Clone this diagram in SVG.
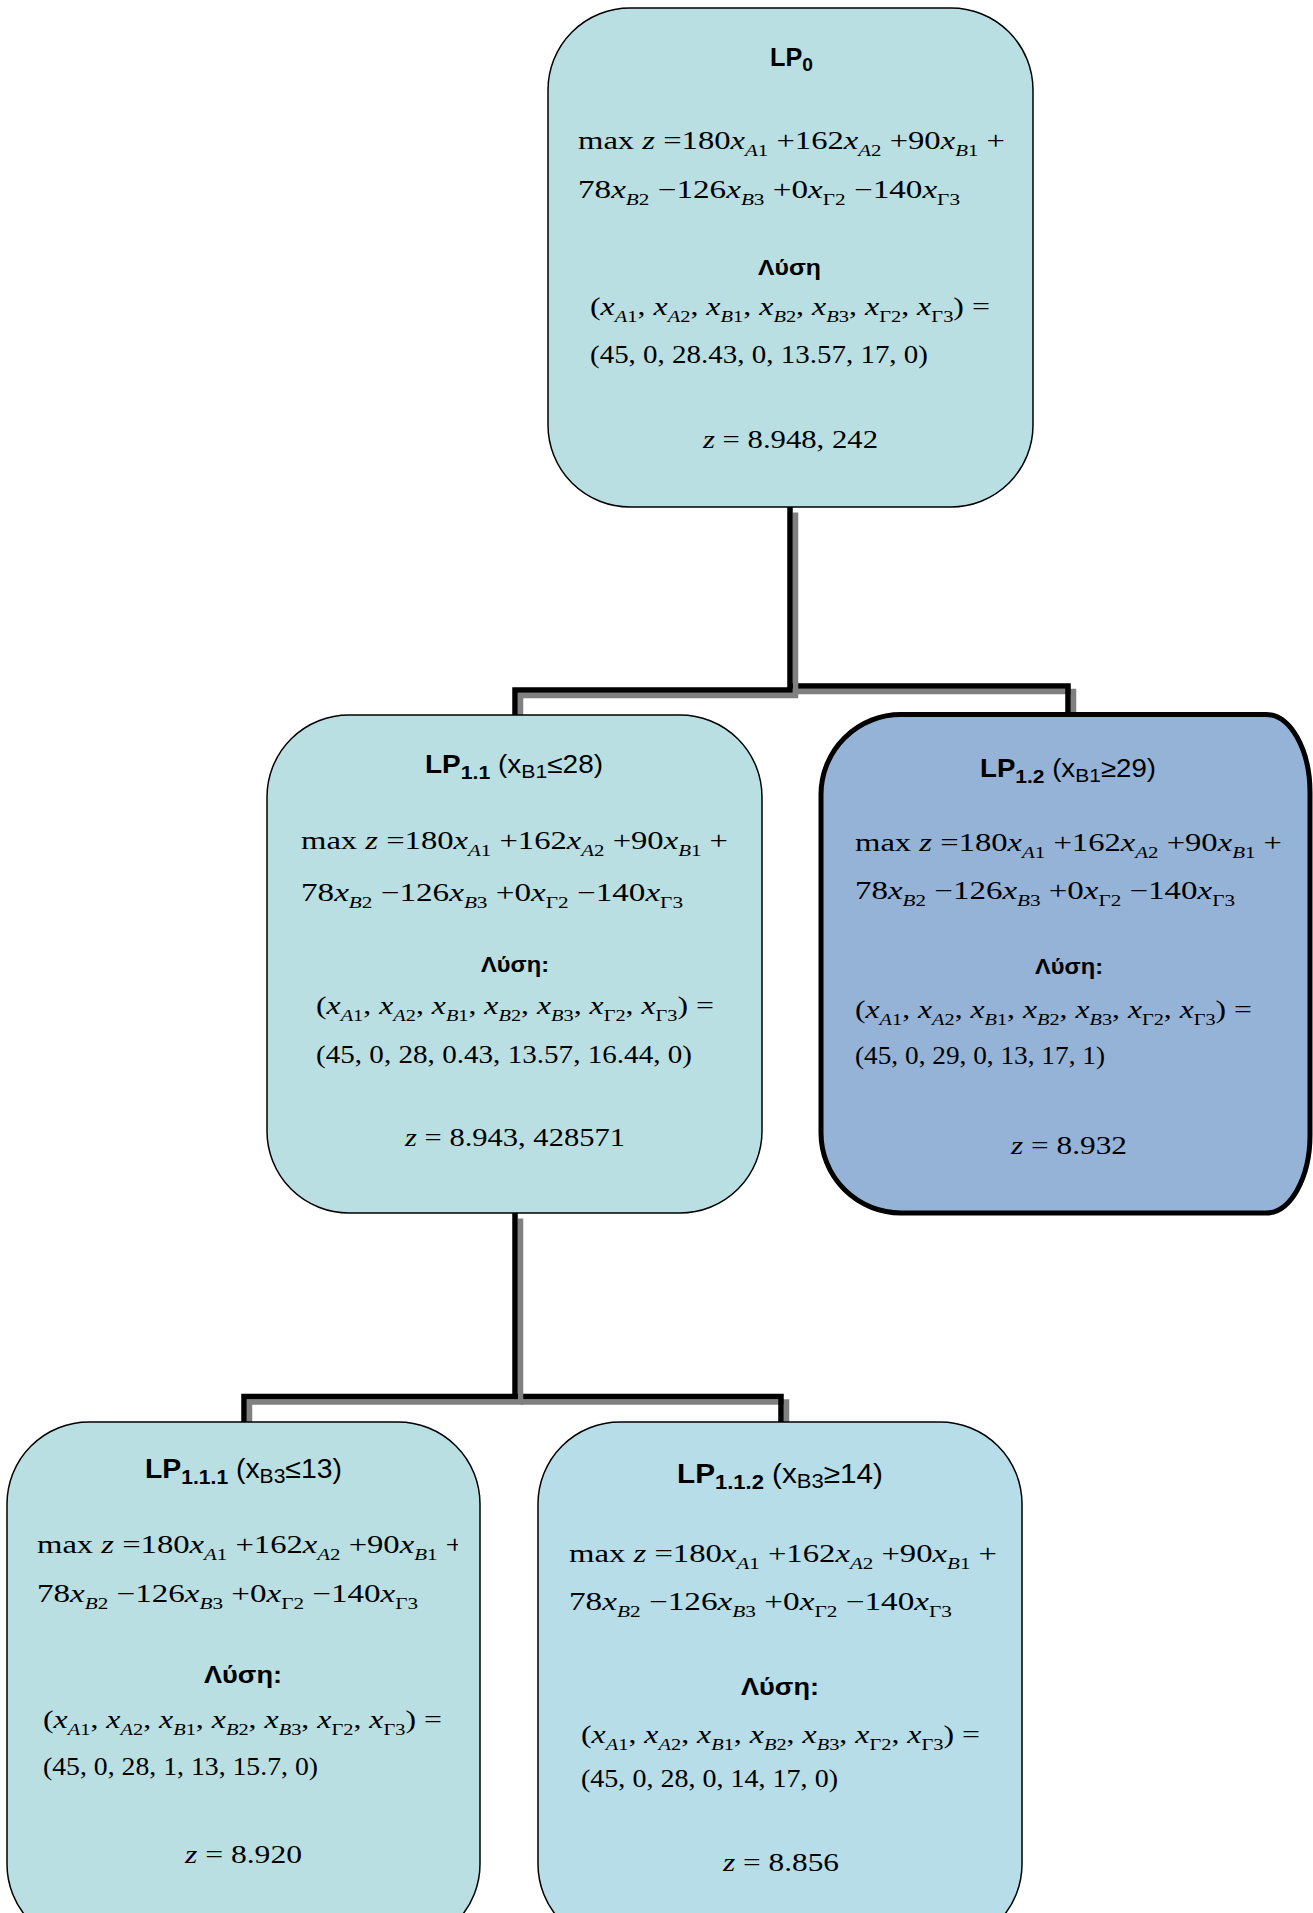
<svg xmlns="http://www.w3.org/2000/svg" width="1313" height="1913" viewBox="0 0 1313 1913">
  <defs>
    <style>
      .m{font-family:"Liberation Serif","Times New Roman",serif;font-size:25px;fill:#000}
      .i{font-style:italic}
      .s{font-size:16px}
      .t{font-family:"Liberation Sans",Arial,sans-serif;font-size:25px;font-weight:bold;fill:#000}
      .tb{font-size:27px}
      .ts{font-size:19px}
      .tsb{font-size:20px}
      .n{font-weight:normal}
      .h{font-size:22px}
      .hb{font-size:24px}
      .box{fill:#BADFE3;stroke:#000;stroke-width:1.5}
      .box2{fill:#B7DDE8;stroke:#000;stroke-width:1.5}
      .sel{fill:#95B3D7;stroke:#000;stroke-width:5}
      .wire{fill:none;stroke:#000;stroke-width:5.5;stroke-linejoin:miter}
      .shade{fill:none;stroke:#808080;stroke-width:5.5;stroke-linejoin:miter}
    </style>
    <clipPath id="clip111">
      <rect x="0" y="1400" width="458" height="513"/>
    </clipPath>
  </defs>

  <rect width="1313" height="1913" fill="#fff"/>

  <!-- elbow connectors with drop shadow -->
  <g id="connectors">
    <!-- LP0 -> LP1.2 -->
    <path class="shade" d="M795.5,691.5 H1073.5 V716"/>
    <path class="wire" d="M790,686 H1068 V716"/>
    <!-- LP0 -> LP1.1 -->
    <path class="shade" d="M795.5,512.5 V695.5 H520.5 V716"/>
    <path class="wire" d="M790,507 V690 H515 V716"/>
    <!-- LP1.1 -> LP1.1.2 -->
    <path class="shade" d="M520.5,1402 H786.5 V1423"/>
    <path class="wire" d="M515,1396.5 H781 V1423"/>
    <!-- LP1.1 -> LP1.1.1 -->
    <path class="shade" d="M520.5,1218.5 V1402 H249.5 V1423"/>
    <path class="wire" d="M515,1213 V1396.5 H244 V1423"/>
  </g>

  <!-- root problem -->
  <g id="lp0">
    <rect class="box" x="548" y="8" width="485" height="499" rx="82" ry="82"/>
    <text class="t" x="770" y="66" textLength="43" lengthAdjust="spacingAndGlyphs">LP<tspan class="ts" dy="5">0</tspan></text>
    <text class="m" x="578" y="149" textLength="427" lengthAdjust="spacingAndGlyphs">max <tspan class="i">z</tspan> =180<tspan class="i">x</tspan><tspan class="s" dy="7"><tspan class="i">A</tspan>1</tspan><tspan dy="-7"> +162</tspan><tspan class="i">x</tspan><tspan class="s" dy="7"><tspan class="i">A</tspan>2</tspan><tspan dy="-7"> +90</tspan><tspan class="i">x</tspan><tspan class="s" dy="7"><tspan class="i">B</tspan>1</tspan><tspan dy="-7"> +</tspan></text>
    <text class="m" x="578" y="198" textLength="382" lengthAdjust="spacingAndGlyphs">78<tspan class="i">x</tspan><tspan class="s" dy="7"><tspan class="i">B</tspan>2</tspan><tspan dy="-7"> −126</tspan><tspan class="i">x</tspan><tspan class="s" dy="7"><tspan class="i">B</tspan>3</tspan><tspan dy="-7"> +0</tspan><tspan class="i">x</tspan><tspan class="s" dy="7">Γ2</tspan><tspan dy="-7"> −140</tspan><tspan class="i">x</tspan><tspan class="s" dy="7">Γ3</tspan></text>
    <text class="t h" x="758" y="275" textLength="63" lengthAdjust="spacingAndGlyphs">Λύση</text>
    <text class="m" x="590" y="315" textLength="400" lengthAdjust="spacingAndGlyphs">(<tspan class="i">x</tspan><tspan class="s" dy="7"><tspan class="i">A</tspan>1</tspan><tspan dy="-7">, </tspan><tspan class="i">x</tspan><tspan class="s" dy="7"><tspan class="i">A</tspan>2</tspan><tspan dy="-7">, </tspan><tspan class="i">x</tspan><tspan class="s" dy="7"><tspan class="i">B</tspan>1</tspan><tspan dy="-7">, </tspan><tspan class="i">x</tspan><tspan class="s" dy="7"><tspan class="i">B</tspan>2</tspan><tspan dy="-7">, </tspan><tspan class="i">x</tspan><tspan class="s" dy="7"><tspan class="i">B</tspan>3</tspan><tspan dy="-7">, </tspan><tspan class="i">x</tspan><tspan class="s" dy="7">Γ2</tspan><tspan dy="-7">, </tspan><tspan class="i">x</tspan><tspan class="s" dy="7">Γ3</tspan><tspan dy="-7">) =</tspan></text>
    <text class="m" x="590" y="363" textLength="338" lengthAdjust="spacingAndGlyphs">(45, 0, 28.43, 0, 13.57, 17, 0)</text>
    <text class="m" x="703" y="448" textLength="175" lengthAdjust="spacingAndGlyphs"><tspan class="i">z</tspan> = 8.948, 242</text>
  </g>

  <!-- branch x_B1 <= 28 -->
  <g id="lp1-1">
    <rect class="box" x="267" y="715" width="495" height="498" rx="82" ry="82"/>
    <text class="t" x="425" y="773" textLength="178" lengthAdjust="spacingAndGlyphs">LP<tspan class="ts" dy="6">1.1</tspan><tspan class="n" dy="-6"> (x</tspan><tspan class="n ts" dy="5">B1</tspan><tspan class="n" dy="-5">≤28)</tspan></text>
    <text class="m" x="301" y="849" textLength="427" lengthAdjust="spacingAndGlyphs">max <tspan class="i">z</tspan> =180<tspan class="i">x</tspan><tspan class="s" dy="7"><tspan class="i">A</tspan>1</tspan><tspan dy="-7"> +162</tspan><tspan class="i">x</tspan><tspan class="s" dy="7"><tspan class="i">A</tspan>2</tspan><tspan dy="-7"> +90</tspan><tspan class="i">x</tspan><tspan class="s" dy="7"><tspan class="i">B</tspan>1</tspan><tspan dy="-7"> +</tspan></text>
    <text class="m" x="301" y="901" textLength="382" lengthAdjust="spacingAndGlyphs">78<tspan class="i">x</tspan><tspan class="s" dy="7"><tspan class="i">B</tspan>2</tspan><tspan dy="-7"> −126</tspan><tspan class="i">x</tspan><tspan class="s" dy="7"><tspan class="i">B</tspan>3</tspan><tspan dy="-7"> +0</tspan><tspan class="i">x</tspan><tspan class="s" dy="7">Γ2</tspan><tspan dy="-7"> −140</tspan><tspan class="i">x</tspan><tspan class="s" dy="7">Γ3</tspan></text>
    <text class="t h" x="481" y="972" textLength="68" lengthAdjust="spacingAndGlyphs">Λύση:</text>
    <text class="m" x="316" y="1014" textLength="398" lengthAdjust="spacingAndGlyphs">(<tspan class="i">x</tspan><tspan class="s" dy="7"><tspan class="i">A</tspan>1</tspan><tspan dy="-7">, </tspan><tspan class="i">x</tspan><tspan class="s" dy="7"><tspan class="i">A</tspan>2</tspan><tspan dy="-7">, </tspan><tspan class="i">x</tspan><tspan class="s" dy="7"><tspan class="i">B</tspan>1</tspan><tspan dy="-7">, </tspan><tspan class="i">x</tspan><tspan class="s" dy="7"><tspan class="i">B</tspan>2</tspan><tspan dy="-7">, </tspan><tspan class="i">x</tspan><tspan class="s" dy="7"><tspan class="i">B</tspan>3</tspan><tspan dy="-7">, </tspan><tspan class="i">x</tspan><tspan class="s" dy="7">Γ2</tspan><tspan dy="-7">, </tspan><tspan class="i">x</tspan><tspan class="s" dy="7">Γ3</tspan><tspan dy="-7">) =</tspan></text>
    <text class="m" x="316" y="1063" textLength="376" lengthAdjust="spacingAndGlyphs">(45, 0, 28, 0.43, 13.57, 16.44, 0)</text>
    <text class="m" x="405" y="1146" textLength="220" lengthAdjust="spacingAndGlyphs"><tspan class="i">z</tspan> = 8.943, 428571</text>
  </g>

  <!-- branch x_B1 >= 29 (highlighted) -->
  <g id="lp1-2">
    <path class="sel" d="M901,714.5 H1266 A44,78 0 0 1 1310,792.5 V1135 A44,78 0 0 1 1266,1213 H901 A80,80 0 0 1 821,1133 V794.5 A80,80 0 0 1 901,714.5 Z"/>
    <text class="t" x="980" y="777" textLength="176" lengthAdjust="spacingAndGlyphs">LP<tspan class="ts" dy="6">1.2</tspan><tspan class="n" dy="-6"> (x</tspan><tspan class="n ts" dy="5">B1</tspan><tspan class="n" dy="-5">≥29)</tspan></text>
    <text class="m" x="855" y="851" textLength="427" lengthAdjust="spacingAndGlyphs">max <tspan class="i">z</tspan> =180<tspan class="i">x</tspan><tspan class="s" dy="7"><tspan class="i">A</tspan>1</tspan><tspan dy="-7"> +162</tspan><tspan class="i">x</tspan><tspan class="s" dy="7"><tspan class="i">A</tspan>2</tspan><tspan dy="-7"> +90</tspan><tspan class="i">x</tspan><tspan class="s" dy="7"><tspan class="i">B</tspan>1</tspan><tspan dy="-7"> +</tspan></text>
    <text class="m" x="855" y="899" textLength="380" lengthAdjust="spacingAndGlyphs">78<tspan class="i">x</tspan><tspan class="s" dy="7"><tspan class="i">B</tspan>2</tspan><tspan dy="-7"> −126</tspan><tspan class="i">x</tspan><tspan class="s" dy="7"><tspan class="i">B</tspan>3</tspan><tspan dy="-7"> +0</tspan><tspan class="i">x</tspan><tspan class="s" dy="7">Γ2</tspan><tspan dy="-7"> −140</tspan><tspan class="i">x</tspan><tspan class="s" dy="7">Γ3</tspan></text>
    <text class="t h" x="1035" y="974" textLength="68" lengthAdjust="spacingAndGlyphs">Λύση:</text>
    <text class="m" x="855" y="1018" textLength="397" lengthAdjust="spacingAndGlyphs">(<tspan class="i">x</tspan><tspan class="s" dy="7"><tspan class="i">A</tspan>1</tspan><tspan dy="-7">, </tspan><tspan class="i">x</tspan><tspan class="s" dy="7"><tspan class="i">A</tspan>2</tspan><tspan dy="-7">, </tspan><tspan class="i">x</tspan><tspan class="s" dy="7"><tspan class="i">B</tspan>1</tspan><tspan dy="-7">, </tspan><tspan class="i">x</tspan><tspan class="s" dy="7"><tspan class="i">B</tspan>2</tspan><tspan dy="-7">, </tspan><tspan class="i">x</tspan><tspan class="s" dy="7"><tspan class="i">B</tspan>3</tspan><tspan dy="-7">, </tspan><tspan class="i">x</tspan><tspan class="s" dy="7">Γ2</tspan><tspan dy="-7">, </tspan><tspan class="i">x</tspan><tspan class="s" dy="7">Γ3</tspan><tspan dy="-7">) =</tspan></text>
    <text class="m" x="855" y="1064" textLength="250" lengthAdjust="spacingAndGlyphs">(45, 0, 29, 0, 13, 17, 1)</text>
    <text class="m" x="1011" y="1154" textLength="116" lengthAdjust="spacingAndGlyphs"><tspan class="i">z</tspan> = 8.932</text>
  </g>

  <!-- branch x_B3 <= 13 -->
  <g id="lp1-1-1">
    <rect class="box" x="7" y="1422" width="473" height="524" rx="82" ry="82"/>
    <text class="t tb" x="145" y="1478" textLength="197" lengthAdjust="spacingAndGlyphs">LP<tspan class="tsb" dy="6">1.1.1</tspan><tspan class="n" dy="-6"> (x</tspan><tspan class="n tsb" dy="5">B3</tspan><tspan class="n" dy="-5">≤13)</tspan></text>
    <text class="m" x="37" y="1553" textLength="427" lengthAdjust="spacingAndGlyphs" clip-path="url(#clip111)">max <tspan class="i">z</tspan> =180<tspan class="i">x</tspan><tspan class="s" dy="7"><tspan class="i">A</tspan>1</tspan><tspan dy="-7"> +162</tspan><tspan class="i">x</tspan><tspan class="s" dy="7"><tspan class="i">A</tspan>2</tspan><tspan dy="-7"> +90</tspan><tspan class="i">x</tspan><tspan class="s" dy="7"><tspan class="i">B</tspan>1</tspan><tspan dy="-7"> +</tspan></text>
    <text class="m" x="37" y="1602" textLength="381" lengthAdjust="spacingAndGlyphs">78<tspan class="i">x</tspan><tspan class="s" dy="7"><tspan class="i">B</tspan>2</tspan><tspan dy="-7"> −126</tspan><tspan class="i">x</tspan><tspan class="s" dy="7"><tspan class="i">B</tspan>3</tspan><tspan dy="-7"> +0</tspan><tspan class="i">x</tspan><tspan class="s" dy="7">Γ2</tspan><tspan dy="-7"> −140</tspan><tspan class="i">x</tspan><tspan class="s" dy="7">Γ3</tspan></text>
    <text class="t hb" x="204" y="1683" textLength="78" lengthAdjust="spacingAndGlyphs">Λύση:</text>
    <text class="m" x="43" y="1728" textLength="399" lengthAdjust="spacingAndGlyphs">(<tspan class="i">x</tspan><tspan class="s" dy="7"><tspan class="i">A</tspan>1</tspan><tspan dy="-7">, </tspan><tspan class="i">x</tspan><tspan class="s" dy="7"><tspan class="i">A</tspan>2</tspan><tspan dy="-7">, </tspan><tspan class="i">x</tspan><tspan class="s" dy="7"><tspan class="i">B</tspan>1</tspan><tspan dy="-7">, </tspan><tspan class="i">x</tspan><tspan class="s" dy="7"><tspan class="i">B</tspan>2</tspan><tspan dy="-7">, </tspan><tspan class="i">x</tspan><tspan class="s" dy="7"><tspan class="i">B</tspan>3</tspan><tspan dy="-7">, </tspan><tspan class="i">x</tspan><tspan class="s" dy="7">Γ2</tspan><tspan dy="-7">, </tspan><tspan class="i">x</tspan><tspan class="s" dy="7">Γ3</tspan><tspan dy="-7">) =</tspan></text>
    <text class="m" x="43" y="1775" textLength="275" lengthAdjust="spacingAndGlyphs">(45, 0, 28, 1, 13, 15.7, 0)</text>
    <text class="m" x="185" y="1863" textLength="117" lengthAdjust="spacingAndGlyphs"><tspan class="i">z</tspan> = 8.920</text>
  </g>

  <!-- branch x_B3 >= 14 -->
  <g id="lp1-1-2">
    <rect class="box2" x="538" y="1422" width="484" height="524" rx="82" ry="82"/>
    <text class="t tb" x="677" y="1483" textLength="206" lengthAdjust="spacingAndGlyphs">LP<tspan class="tsb" dy="6">1.1.2</tspan><tspan class="n" dy="-6"> (x</tspan><tspan class="n tsb" dy="5">B3</tspan><tspan class="n" dy="-5">≥14)</tspan></text>
    <text class="m" x="569" y="1562" textLength="428" lengthAdjust="spacingAndGlyphs">max <tspan class="i">z</tspan> =180<tspan class="i">x</tspan><tspan class="s" dy="7"><tspan class="i">A</tspan>1</tspan><tspan dy="-7"> +162</tspan><tspan class="i">x</tspan><tspan class="s" dy="7"><tspan class="i">A</tspan>2</tspan><tspan dy="-7"> +90</tspan><tspan class="i">x</tspan><tspan class="s" dy="7"><tspan class="i">B</tspan>1</tspan><tspan dy="-7"> +</tspan></text>
    <text class="m" x="569" y="1610" textLength="383" lengthAdjust="spacingAndGlyphs">78<tspan class="i">x</tspan><tspan class="s" dy="7"><tspan class="i">B</tspan>2</tspan><tspan dy="-7"> −126</tspan><tspan class="i">x</tspan><tspan class="s" dy="7"><tspan class="i">B</tspan>3</tspan><tspan dy="-7"> +0</tspan><tspan class="i">x</tspan><tspan class="s" dy="7">Γ2</tspan><tspan dy="-7"> −140</tspan><tspan class="i">x</tspan><tspan class="s" dy="7">Γ3</tspan></text>
    <text class="t hb" x="741" y="1695" textLength="78" lengthAdjust="spacingAndGlyphs">Λύση:</text>
    <text class="m" x="581" y="1743" textLength="399" lengthAdjust="spacingAndGlyphs">(<tspan class="i">x</tspan><tspan class="s" dy="7"><tspan class="i">A</tspan>1</tspan><tspan dy="-7">, </tspan><tspan class="i">x</tspan><tspan class="s" dy="7"><tspan class="i">A</tspan>2</tspan><tspan dy="-7">, </tspan><tspan class="i">x</tspan><tspan class="s" dy="7"><tspan class="i">B</tspan>1</tspan><tspan dy="-7">, </tspan><tspan class="i">x</tspan><tspan class="s" dy="7"><tspan class="i">B</tspan>2</tspan><tspan dy="-7">, </tspan><tspan class="i">x</tspan><tspan class="s" dy="7"><tspan class="i">B</tspan>3</tspan><tspan dy="-7">, </tspan><tspan class="i">x</tspan><tspan class="s" dy="7">Γ2</tspan><tspan dy="-7">, </tspan><tspan class="i">x</tspan><tspan class="s" dy="7">Γ3</tspan><tspan dy="-7">) =</tspan></text>
    <text class="m" x="581" y="1787" textLength="257" lengthAdjust="spacingAndGlyphs">(45, 0, 28, 0, 14, 17, 0)</text>
    <text class="m" x="723" y="1871" textLength="116" lengthAdjust="spacingAndGlyphs"><tspan class="i">z</tspan> = 8.856</text>
  </g>
</svg>
